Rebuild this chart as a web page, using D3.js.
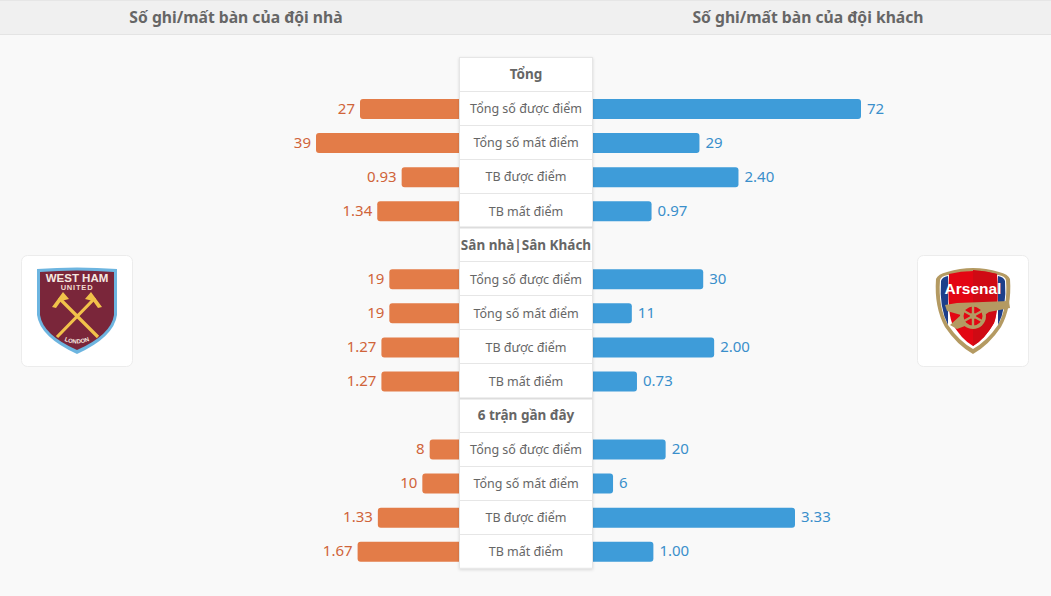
<!DOCTYPE html>
<html><head><meta charset="utf-8">
<script src="https://cdn.jsdelivr.net/npm/d3@7/dist/d3.min.js"></script>
<style>html,body{margin:0;padding:0;background:#f9f9f9;overflow:hidden}svg{display:block}text{font-family:"Noto Sans",sans-serif}</style>
</head><body><svg id="c" width="1051" height="596"></svg>
<script>
const headers = ["Số ghi/mất bàn của đội nhà", "Số ghi/mất bàn của đội khách"];
const sections = ["Tổng", "Sân nhà|Sân Khách", "6 trận gần đây"];
const metrics = ["Tổng số được điểm", "Tổng số mất điểm", "TB được điểm", "TB mất điểm"];
const homeValues = [["27","39","0.93","1.34"],["19","19","1.27","1.27"],["8","10","1.33","1.67"]];
const awayValues = [["72","29","2.40","0.97"],["30","11","2.00","0.73"],["20","6","3.33","1.00"]];

const svg = d3.select("#c");
const W = 1051;
const panelL = 459.5, panelR = 592.5;
const rowH = 34.05, panelTop = 58;
const homeCount = d3.scaleLinear().domain([0, 39]).range([459, 316]);
const homeRate = d3.scaleLinear().domain([0, 1.67]).range([457, 357.6]);
const awayCount = d3.scaleLinear().domain([0, 72]).range([590.5, 861]);
const awayRate = d3.scaleLinear().domain([0, 3.33]).range([592.6, 795]);
const hx = d => (d.mi < 2 ? homeCount : homeRate)(+d.home);
const ax = d => (d.mi < 2 ? awayCount : awayRate)(+d.away);
const y = d3.scaleLinear().domain([0, 1]).range([panelTop, panelTop + rowH]);

const f = svg.append("defs").append("filter").attr("id","sh").attr("x","-10%").attr("y","-5%").attr("width","120%").attr("height","110%");
f.append("feDropShadow").attr("dx",0).attr("dy",1).attr("stdDeviation",1.5).attr("flood-color","#000").attr("flood-opacity",0.14);

// header
svg.append("rect").attr("width",W).attr("height",35).attr("fill","#f0f0f0");
svg.append("line").attr("x1",0).attr("x2",W).attr("y1",0.5).attr("y2",0.5).attr("stroke","#e6e6e6");
svg.append("line").attr("x1",0).attr("x2",W).attr("y1",34.5).attr("y2",34.5).attr("stroke","#e4e4e4");
svg.selectAll("text.h").data(headers).join("text").attr("class","h")
  .attr("x",(d,i)=>i?808:236).attr("y",22.5).attr("text-anchor","middle")
  .attr("font-size",15.7).attr("font-weight",700).attr("fill","#666").text(d=>d);

// rows
const rows = [];
sections.forEach((s,si)=>{
  metrics.forEach((m,mi)=>rows.push({si,mi,m,row:si*5+mi+1,home:homeValues[si][mi],away:awayValues[si][mi]}));
});

const g = svg.append("g");
g.selectAll("rect.home").data(rows).join("rect").attr("class","home")
  .attr("x",hx).attr("width",d=>panelL+4-hx(d))
  .attr("y",d=>y(d.row)+7).attr("height",20).attr("rx",3).attr("fill","#e37c48");
g.selectAll("rect.away").data(rows).join("rect").attr("class","away")
  .attr("x",panelR-4).attr("width",d=>ax(d)-panelR+4)
  .attr("y",d=>y(d.row)+7).attr("height",20).attr("rx",3).attr("fill","#3e9cd9");
g.selectAll("text.hv").data(rows).join("text").attr("class","hv")
  .attr("x",d=>hx(d)-5).attr("y",d=>y(d.row)+21.5)
  .attr("text-anchor","end").attr("font-size",15).attr("fill","#d0643a").text(d=>d.home);
g.selectAll("text.av").data(rows).join("text").attr("class","av")
  .attr("x",d=>ax(d)+6).attr("y",d=>y(d.row)+21.5)
  .attr("font-size",15).attr("fill","#3a8fcb").text(d=>d.away);

// panel
svg.append("rect").attr("x",panelL).attr("y",panelTop-0.5).attr("width",panelR-panelL).attr("height",rowH*15)
  .attr("fill","#fff").attr("stroke","#e6e6e6").attr("filter","url(#sh)");
d3.range(1,15).forEach(i=>{
  svg.append("line").attr("x1",panelL).attr("x2",panelR).attr("y1",Math.round(y(i))-0.5).attr("y2",Math.round(y(i))-0.5)
    .attr("stroke",(i%5===0)?"#ddd":"#e6e6e6").attr("stroke-width",(i%5===0)?2:1);
});
svg.selectAll("text.sec").data(sections).join("text").attr("class","sec")
  .attr("x",(panelL+panelR)/2).attr("y",(d,i)=>y(i*5)+21.3).attr("text-anchor","middle")
  .attr("font-size",13.5).attr("font-weight",700).attr("fill","#666").text(d=>d);
svg.selectAll("text.met").data(rows).join("text").attr("class","met")
  .attr("x",(panelL+panelR)/2).attr("y",d=>y(d.row)+21.3).attr("text-anchor","middle")
  .attr("font-size",12.5).attr("fill","#666").text(d=>d.m);

// logo cards
[[21,"wh"],[917,"ars"]].forEach(([x,k])=>{
  const c = svg.append("g").attr("transform",`translate(${x},255)`);
  c.append("rect").attr("x",0.5).attr("y",0.5).attr("width",111).attr("height",111).attr("rx",6).attr("fill","#fff").attr("stroke","#ececec");
  const l = c.append("g");
  const sans = "'Liberation Sans'";
  if(k==="wh"){
    const sh="M16 14 Q56 11 96 14 L96 60 Q93 82 56 99 Q19 82 16 60Z";
    l.append("path").attr("d",sh).attr("fill","#6db5e0");
    l.append("path").attr("d","M19 17 Q56 14 93 17 L93 60 Q90 80 56 95 Q22 80 19 60Z").attr("fill","#7a263a");
    l.append("text").attr("x",56).attr("y",26.5).attr("text-anchor","middle").attr("font-size",11.5).attr("font-weight",700).attr("fill","#f5e9e0").style("font-family",sans).text("WEST HAM");
    l.append("text").attr("x",56).attr("y",35).attr("text-anchor","middle").attr("font-size",7.5).attr("letter-spacing",0.8).attr("font-weight",700).attr("fill","#f0dcd0").style("font-family",sans).text("UNITED");
    l.append("defs").append("path").attr("id","arc").attr("d","M38 83 Q56 94 74 83");
    l.append("text").attr("font-size",6).attr("font-weight",700).attr("fill","#f5e9e0").style("font-family",sans)
      .append("textPath").attr("href","#arc").attr("startOffset","50%").attr("text-anchor","middle").text("LONDON");
    l.append("path").attr("d","M36 82 L74 43 M77 82 L38 43").attr("stroke","#f1c24a").attr("stroke-width",3.2).attr("fill","none");
    l.append("path").attr("d","M31 52 L42 37 L48 44 L40 46 L35 53Z M81 52 L70 37 L64 44 L72 46 L77 53Z").attr("fill","#f1c24a");
  } else {
    l.append("path").attr("d","M19 24 Q21 19 30 17 Q56 9 82 17 Q91 19 93 24 Q95 52 84 72 Q72 90 56 99 Q40 90 28 72 Q17 52 19 24Z").attr("fill","#b49a62");
    l.append("path").attr("d","M23 25 Q24 21 31 20 Q56 13 81 20 Q88 21 89 25 Q91 52 81 70 Q70 86 56 94 Q42 86 31 70 Q21 52 23 25Z").attr("fill","#fff");
    l.append("path").attr("d","M24 26 Q25 22 31 21 L31 70 Q22 52 24 26Z M88 26 Q87 22 81 21 L81 70 Q90 52 88 26Z").attr("fill","#1d3f8a");
    l.append("path").attr("d","M32 19 Q56 13 80 19 Q82 55 77 68 Q68 84 56 91 Q44 84 35 68 Q30 55 32 19Z").attr("fill","#e30613");
    l.append("path").attr("d","M56 15 Q70 16 80 19 Q82 55 77 68 Q68 84 56 91Z").attr("fill","#cf0a14");
    l.append("text").attr("x",56).attr("y",39).attr("text-anchor","middle").attr("font-size",15.5).attr("font-weight",700).attr("fill","#fff").style("font-family",sans).text("Arsenal");
    l.append("path").attr("d","M28 50 L40 48 L92 46 L93 53 L72 57 L56 68 L40 74 L33 70 L44 60 L30 56Z").attr("fill","#b49a62");
    l.append("circle").attr("cx",56).attr("cy",61).attr("r",13).attr("fill","#b49a62");
    l.append("circle").attr("cx",56).attr("cy",61).attr("r",9.5).attr("fill","#e30613");
    l.append("circle").attr("cx",56).attr("cy",61).attr("r",3).attr("fill","#b49a62");
    l.append("path").attr("d","M56 51 V71 M47 56 L65 66 M47 66 L65 56").attr("stroke","#b49a62").attr("stroke-width",2.4);
  }
});
</script></body></html>
